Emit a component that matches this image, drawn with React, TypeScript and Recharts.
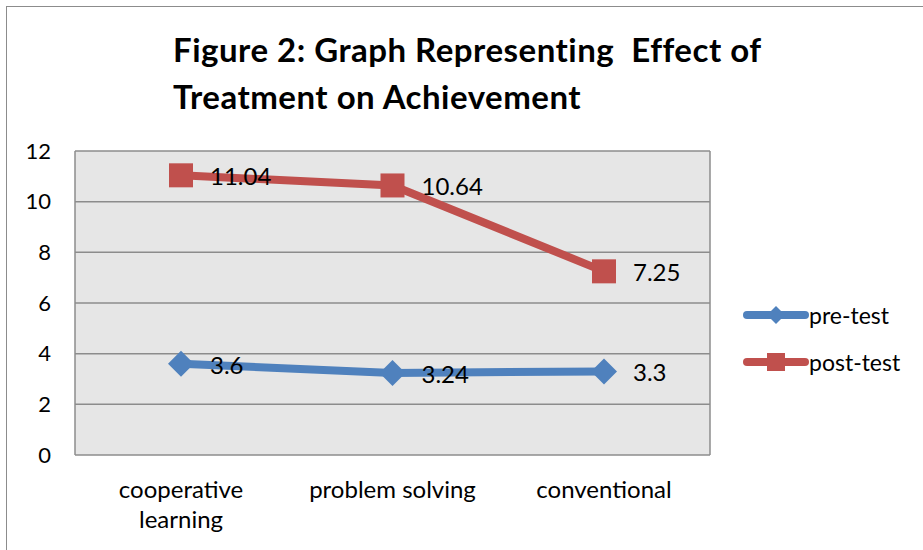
import React from "react";
import {
  CartesianGrid,
  LabelList,
  Line,
  LineChart,
  XAxis,
  YAxis,
} from "recharts";

const groups = ["cooperative learning", "problem solving", "conventional"];
const preTest = [3.6, 3.24, 3.3];
const postTest = [11.04, 10.64, 7.25];
const yTicks = [0, 2, 4, 6, 8, 10, 12];

const data = groups.map((g, i) => ({ group: g, pre: preTest[i], post: postTest[i] }));

const FONT = "Lato, 'Open Sans', sans-serif";
const BLUE = "#4f81bd";
const RED = "#c0504d";

const Diamond = (props: any) => {
  const { cx, cy, fill, r = 13 } = props;
  if (cx == null || cy == null) return null;
  return (
    <path
      d={`M${cx},${cy - r} L${cx + r},${cy} L${cx},${cy + r} L${cx - r},${cy} Z`}
      fill={fill}
    />
  );
};

const Square = (props: any) => {
  const { cx, cy, fill, s = 12 } = props;
  if (cx == null || cy == null) return null;
  return <rect x={cx - s} y={cy - s} width={s * 2} height={s * 2} fill={fill} />;
};

const ValueLabel = (props: any) => {
  const { x, y, value } = props;
  return (
    <text x={x + 29} y={y} dy={10} fontSize={24} fontFamily={FONT} fill="#000">
      {value}
    </text>
  );
};

// long labels wrap onto two lines, like the category axis in the original
const CategoryTick = (props: any) => {
  const { x, y, payload } = props;
  const label: string = payload.value;
  const lines = label.length > 16 ? label.split(" ") : [label];
  return (
    <text x={x} y={y} textAnchor="middle" fontSize={24} fontFamily={FONT} fill="#000">
      {lines.map((ln, i) => (
        <tspan key={i} x={x} dy={i === 0 ? 18 : 30}>
          {ln}
        </tspan>
      ))}
    </text>
  );
};

const LegendBox = () => {
  const items = [
    { name: "pre-test", color: BLUE, shape: "diamond" },
    { name: "post-test", color: RED, shape: "square" },
  ];
  return (
    <div style={{ fontFamily: FONT, fontSize: 23 }}>
      {items.map((it) => (
        <div key={it.name} style={{ display: "flex", alignItems: "center", height: 47 }}>
          <svg width={66} height={30}>
            <line x1={4} y1={15} x2={62} y2={15} stroke={it.color} strokeWidth={8} strokeLinecap="round" />
            {it.shape === "diamond" ? (
              <Diamond cx={33} cy={15} r={9} fill={it.color} />
            ) : (
              <Square cx={33} cy={15} s={9} fill={it.color} />
            )}
          </svg>
          <span style={{ color: "#000" }}>{it.name}</span>
        </div>
      ))}
    </div>
  );
};

export default function App() {
  return (
    <div style={{ position: "absolute", left: 0, top: 0, width: 923, height: 550, overflow: "hidden", background: "#fff" }}>
      <div
        style={{
          position: "absolute",
          left: 6,
          top: 6,
          width: 940,
          height: 570,
          border: "1px solid #8c8c8c",
        }}
      />
      <div
        style={{
          position: "absolute",
          left: 173,
          top: 26,
          fontFamily: FONT,
          fontWeight: 700,
          fontSize: 33,
          letterSpacing: 0.5,
          lineHeight: "47px",
          color: "#000",
        }}
      >
        Figure 2: Graph Representing&nbsp; Effect of
        <br />
        Treatment on Achievement
      </div>
      <div style={{ position: "absolute", left: 0, top: 0 }}>
        <LineChart
          width={923}
          height={550}
          data={data}
          margin={{ top: 151, right: 213, bottom: 35, left: 15 }}
        >
          <CartesianGrid
            stroke="#8c8c8c"
            strokeWidth={1.5}
            fill="#e6e6e6"
            verticalCoordinatesGenerator={({ offset }: any) => [offset.left, offset.left + offset.width]}
          />
          <XAxis
            dataKey="group"
            height={60}
            axisLine={false}
            tickLine={false}
            tickSize={0}
            tickMargin={25}
            padding={{ left: 106, right: 106 }}
            tick={<CategoryTick />}
            interval={0}
          />
          <YAxis
            width={60}
            domain={[0, 12]}
            ticks={yTicks}
            axisLine={false}
            tickLine={false}
            tickSize={0}
            tickMargin={24}
            tick={{ fontSize: 22, fontFamily: FONT, fill: "#000" }}
          />
          <Line
            dataKey="pre"
            name="pre-test"
            stroke={BLUE}
            strokeWidth={8}
            dot={<Diamond fill={BLUE} r={13} />}
            isAnimationActive={false}
          >
            <LabelList dataKey="pre" content={<ValueLabel />} />
          </Line>
          <Line
            dataKey="post"
            name="post-test"
            stroke={RED}
            strokeWidth={8}
            dot={<Square fill={RED} s={12} />}
            isAnimationActive={false}
          >
            <LabelList dataKey="post" content={<ValueLabel />} />
          </Line>
        </LineChart>
      </div>
      <div style={{ position: "absolute", left: 743, top: 291 }}>
        <LegendBox />
      </div>
    </div>
  );
}
